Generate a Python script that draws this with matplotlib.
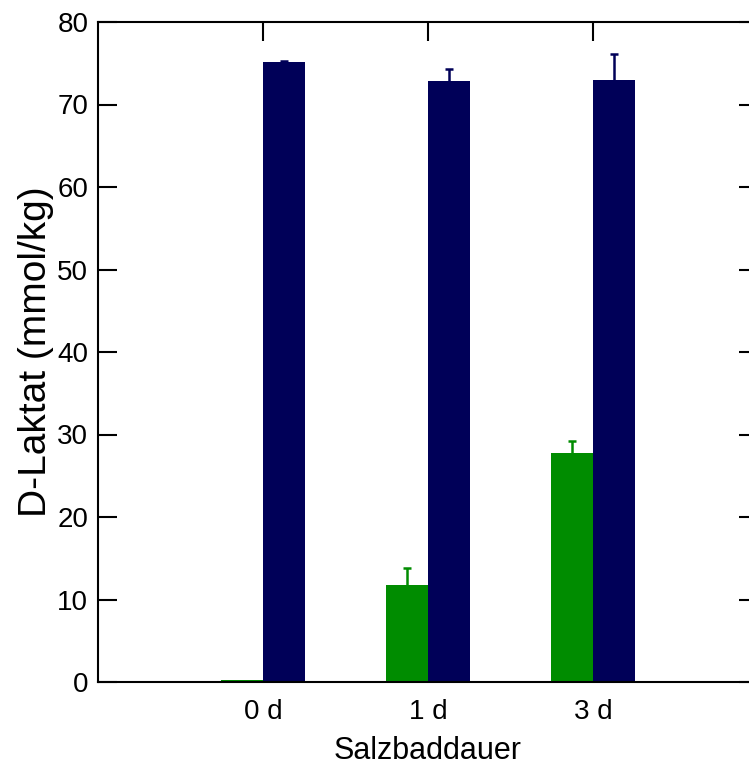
import numpy as np
import matplotlib
matplotlib.use("Agg")
import matplotlib.pyplot as plt

plt.rcParams['font.family'] = ['Liberation Sans', 'DejaVu Sans']

# data
categories = ['0 d', '1 d', '3 d']
green_vals = [0.2, 11.8, 27.8]
green_err = [0.0, 2.0, 1.4]
blue_vals = [75.1, 72.9, 73.0]
blue_err = [0.2, 1.4, 3.1]

green = '#008c00'
navy = '#000058'

fig = plt.figure(figsize=(7.49, 7.68), dpi=100)
# axes runs slightly past the right edge, as in the reference
ax = fig.add_axes([98 / 749, 86 / 768, 660 / 749, 660 / 768])

x = np.arange(1, len(categories) + 1)
w = 0.255
cap = 0.025

ax.bar(x - w / 2, green_vals, w, color=green, zorder=2)
ax.bar(x + w / 2, blue_vals, w, color=navy, zorder=2)

# upper error bars only
for xs, vals, errs, c in [(x - w / 2, green_vals, green_err, green),
                          (x + w / 2, blue_vals, blue_err, navy)]:
    for xi, v, e in zip(xs, vals, errs):
        if e <= 0:
            continue
        ax.vlines(xi, v, v + e, color=c, lw=1.8, zorder=3)
        ax.hlines(v + e, xi - cap, xi + cap, color=c, lw=1.8, zorder=3)

ax.set_xlim(0, 4)
ax.set_ylim(0, 80)
ax.set_yticks(np.arange(0, 81, 10))
ax.set_xticks(x)
ax.set_xticklabels(categories)

for s in ax.spines.values():
    s.set_linewidth(1.5)
    s.set_zorder(4)

ax.tick_params(axis='y', which='both', direction='in', length=13.5, width=1.5,
               labelsize=20, pad=7, left=True, right=True)
ax.tick_params(axis='x', direction='in', length=13.5, width=1.5, labelsize=20,
               bottom=False, top=True, pad=12)

ax.set_ylabel('D-Laktat (mmol/kg)', fontsize=28, labelpad=2)
ax.set_xlabel('Salzbaddauer', fontsize=22, labelpad=8)

fig.savefig('out.png', dpi=100)
